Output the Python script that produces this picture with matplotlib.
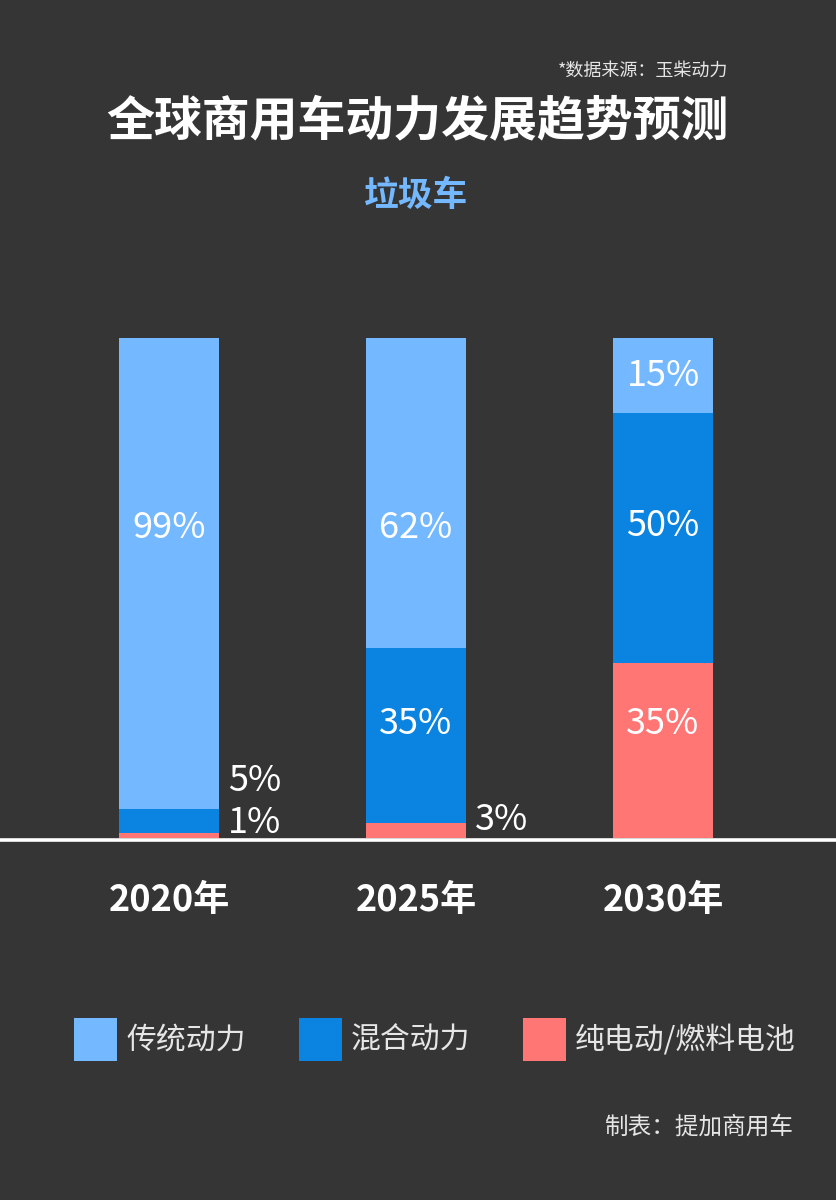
import matplotlib
matplotlib.use("Agg")
import matplotlib.pyplot as plt
from matplotlib.patches import Rectangle

plt.rcParams['font.family'] = ['Noto Sans CJK SC', 'DejaVu Sans']

# 数据
years = ['2020年', '2025年', '2030年']
series = ['传统动力', '混合动力', '纯电动/燃料电池']
traditional = [99, 62, 15]
hybrid = [5, 35, 50]
electric = [1, 3, 35]

colors = ['#74B8FF', '#0A84E0', '#FF7675']
bg = '#353535'

fig = plt.figure(figsize=(8.36, 12), dpi=100, facecolor=bg)
W, H = 836, 1200

# 柱状图区域: 0% 在 y=838px, 100% 在 y=338px
ax = fig.add_axes([0, (H - 838) / H, 1, 500 / H])
ax.set_facecolor('none')
ax.set_ylim(0, 100)
ax.set_xlim(-169 / 247, (W - 169) / 247)
ax.axis('off')

x = list(range(len(years)))
bw = 100 / 247
stack = list(zip(electric, hybrid, traditional))
bottoms = [0] * len(x)
for k, vals in enumerate([electric, hybrid, traditional]):
    ci = [2, 1, 0][k]
    shares = []
    for i in x:
        tot = sum(stack[i])
        shares.append(vals[i] / tot * 100)
    ax.bar(x, shares, bw, bottom=bottoms, color=colors[ci], linewidth=0, zorder=2)
    bottoms = [b + s for b, s in zip(bottoms, shares)]

ax.axhline(-0.35, color='white', lw=2.6, zorder=3, clip_on=False)

# 数值标签 (位置单独给出)
inside = [  # (柱序号, 文本, y)
    (0, '%d%%' % traditional[0], 61.9),
    (1, '%d%%' % traditional[1], 61.9),
    (1, '%d%%' % hybrid[1], 22.7),
    (2, '%d%%' % traditional[2], 92.4),
    (2, '%d%%' % hybrid[2], 62.4),
    (2, '%d%%' % electric[2], 22.9),
]
for i, t, yy in inside:
    ax.text(i, yy, t, color='white', fontsize=26, ha='center', va='center', zorder=4)

outside = [
    (0, '%d%%' % hybrid[0], 11.4),
    (0, '%d%%' % electric[0], 3.0),
    (1, '%d%%' % electric[1], 3.5),
]
for i, t, yy in outside:
    ax.text(i + bw / 2 + 0.035, yy, t, color='white', fontsize=26, ha='left', va='center', zorder=4)

for i, y in zip(x, years):
    ax.text(i, -12.5, y, color='white', fontsize=26, fontweight='bold',
            ha='center', va='center', clip_on=False)

# 标题
fig.text(728 / W, 1 - 71 / H, '*数据来源：玉柴动力', color='#e6e6e6', fontsize=13,
         ha='right', va='center')
fig.text(0.5 * (107 + 728) / W, 1 - 122 / H, '全球商用车动力发展趋势预测', color='white',
         fontsize=34.5, fontweight='bold', ha='center', va='center')
fig.text(416 / W, 1 - 195 / H, '垃圾车', color=colors[0], fontsize=25,
         fontweight='bold', ha='center', va='center')

# 图例
leg_x = [74, 299, 523]
for lx, name, c in zip(leg_x, series, colors):
    fig.patches.append(Rectangle((lx / W, 1 - 1061 / H), 43 / W, 43 / H,
                                 transform=fig.transFigure, facecolor=c, linewidth=0))
    fig.text((lx + 52) / W, 1 - 1040 / H, name, color='#e6e6e6', fontsize=21.5,
             ha='left', va='center')

fig.text(793 / W, 1 - 1127 / H, '制表：提加商用车', color='#e6e6e6', fontsize=17,
         ha='right', va='center')

fig.savefig('out.png', dpi=100, facecolor=bg)
